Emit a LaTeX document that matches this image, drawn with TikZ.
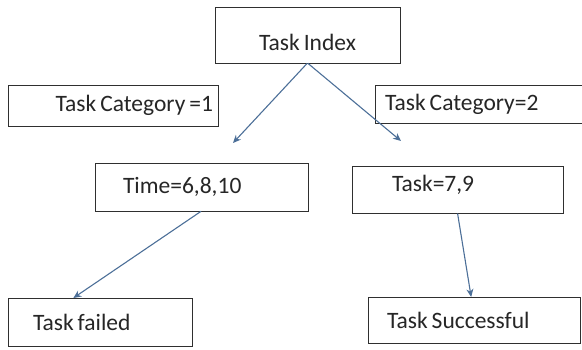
\documentclass[tikz,border=0pt]{standalone}
\usepackage{fontspec}
\setmainfont{Carlito}
\usepackage{xcolor}
\usepackage{tikz}
\usetikzlibrary{arrows.meta,positioning,calc}
\definecolor{boxline}{HTML}{2F2F2F}
\definecolor{arrowblue}{HTML}{4C6F98}
\definecolor{labelink}{HTML}{262626}
\tikzset{
    every picture/.style={line join=miter},
    taskbox/.style={draw=boxline,fill=white,line width=1pt,rectangle,
      anchor=north west,inner xsep=0pt,inner ysep=0pt,outer sep=0pt,
      text=labelink,font=\fontsize{23.5}{28}\selectfont,
      execute at begin node={\spaceskip=4pt\relax}},
    flowarrow/.style={-{Stealth[length=8pt,width=7pt]},draw=arrowblue,
      line width=1.1pt,shorten <=0.5pt}
}
\begin{document}
\begin{tikzpicture}[x=1pt,y=-1pt]
  \useasboundingbox (0,0) rectangle (582,349);
  % top and the two category boxes
  \node[taskbox,minimum width=185pt,minimum height=56pt,text width=150pt,
    align=center,text height=31pt] (idx) at (215,7) {Task Index};
  \node[taskbox,minimum width=210pt,minimum height=41pt,text width=200pt,
    align=right] (cat1) at (8,85) {Task Category =1};
  \node[taskbox,minimum width=215pt,minimum height=38pt,text width=195pt,
    align=left] (cat2) at (375,85) {Task Category=2};
  % middle row
  \node[taskbox,minimum width=213pt,minimum height=48pt,text width=157pt,
    align=left] (time) at (95,163) {Time=6,8,10};
  \node[taskbox,minimum width=211pt,minimum height=47pt,text width=131pt,
    align=left,text depth=12pt] (task) at (352,166) {Task=7,9};
  % results
  \node[taskbox,minimum width=184pt,minimum height=48pt,text width=134pt,
    align=left] (fail) at (8,298) {Task failed};
  \node[taskbox,minimum width=212pt,minimum height=46pt,text width=174pt,
    align=left] (succ) at (368,297) {Task Successful};
  \coordinate (lefttip) at (233,143);
  \coordinate (righttip) at (401,141);
  \draw[flowarrow] (idx.south) -- (lefttip);
  \draw[flowarrow] (idx.south) -- (righttip);
  \draw[flowarrow] (time.south) -- (fail.138);
  \draw[flowarrow] (task.south) -- (succ.97);
\end{tikzpicture}
\end{document}
